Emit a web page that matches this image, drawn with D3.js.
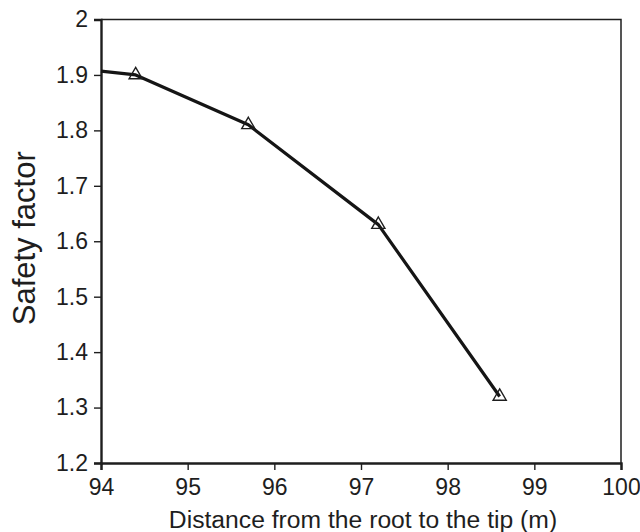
<!DOCTYPE html>
<html>
<head>
<meta charset="utf-8">
<script src="https://cdn.jsdelivr.net/npm/d3@7"></script>
<style>
  html, body { margin: 0; padding: 0; background: #fff; }
  svg { display: block; font-family: "Liberation Sans", Arial, sans-serif; }
</style>
</head>
<body>
<svg id="chart" width="640" height="532"></svg>
<script>
// Safety factor along the outer blade span
const distance = [94, 94.4, 95.7, 97.2, 98.6];
const safetyFactor = [1.907, 1.9, 1.81, 1.63, 1.32];
// the first sample is the curve's start at the axis, drawn without a marker
const markerFlags = [false, true, true, true, true];

const xTicks = [94, 95, 96, 97, 98, 99, 100];
const yTicks = [1.2, 1.3, 1.4, 1.5, 1.6, 1.7, 1.8, 1.9, 2];

const margin = { left: 101, right: 19, top: 19.5, bottom: 69 };
const width = 640, height = 532;
const ink = "#1e1e1e";

const svg = d3.select("#chart");

const x = d3.scaleLinear().domain([94, 100]).range([margin.left, width - margin.right]);
const y = d3.scaleLinear().domain([1.2, 2]).range([height - margin.bottom, margin.top]);

// frame: top and right edges
svg.append("path")
  .attr("d", `M${x(94)},${y(2)}H${x(100)}V${y(1.2)}`)
  .attr("fill", "none")
  .attr("stroke", ink)
  .attr("stroke-width", 1.5);

// x axis
const xAxis = svg.append("g")
  .attr("transform", `translate(0,${y(1.2)})`)
  .call(d3.axisBottom(x).tickValues(xTicks).tickFormat(d3.format("d")).tickSize(7).tickPadding(9));
xAxis.select(".domain").attr("stroke", ink).attr("stroke-width", 2.4);
xAxis.selectAll(".tick line").attr("stroke", ink).attr("stroke-width", 1.4);
xAxis.selectAll(".tick text").attr("fill", ink).style("font-size", "23px");

// y axis
const yAxis = svg.append("g")
  .attr("transform", `translate(${x(94)},0)`)
  .call(d3.axisLeft(y).tickValues(yTicks).tickFormat(d => d === 2 ? "2" : d3.format(".1f")(d)).tickSize(7).tickPadding(6));
yAxis.select(".domain").attr("stroke", ink).attr("stroke-width", 2.4);
yAxis.selectAll(".tick line").attr("stroke", ink).attr("stroke-width", 1.4);
yAxis.selectAll(".tick text").attr("fill", ink).style("font-size", "23px");

// axis titles
svg.append("text")
  .attr("x", (x(94) + x(100)) / 2 + 2)
  .attr("y", 528)
  .attr("text-anchor", "middle")
  .attr("fill", ink)
  .style("font-size", "24.7px")
  .text("Distance from the root to the tip (m)");

svg.append("text")
  .attr("transform", `translate(35,${(y(2) + y(1.2)) / 2 - 3}) rotate(-90)`)
  .attr("text-anchor", "middle")
  .attr("fill", ink)
  .style("font-size", "31px")
  .text("Safety factor");

// data
const points = distance.map((d, i) => ({ x: d, y: safetyFactor[i], marker: markerFlags[i] }));

svg.append("path")
  .datum(points)
  .attr("d", d3.line().x(d => x(d.x)).y(d => y(d.y)))
  .attr("fill", "none")
  .attr("stroke", "#151515")
  .attr("stroke-width", 3.2)
  .attr("stroke-linejoin", "round");

svg.selectAll(".marker")
  .data(points.filter(d => d.marker))
  .join("path")
  .attr("class", "marker")
  .attr("transform", d => `translate(${x(d.x)},${y(d.y)})`)
  .attr("d", d3.symbol(d3.symbolTriangle, 75))
  .attr("fill", "none")
  .attr("stroke", ink)
  .attr("stroke-width", 1.4);
</script>
</body>
</html>
